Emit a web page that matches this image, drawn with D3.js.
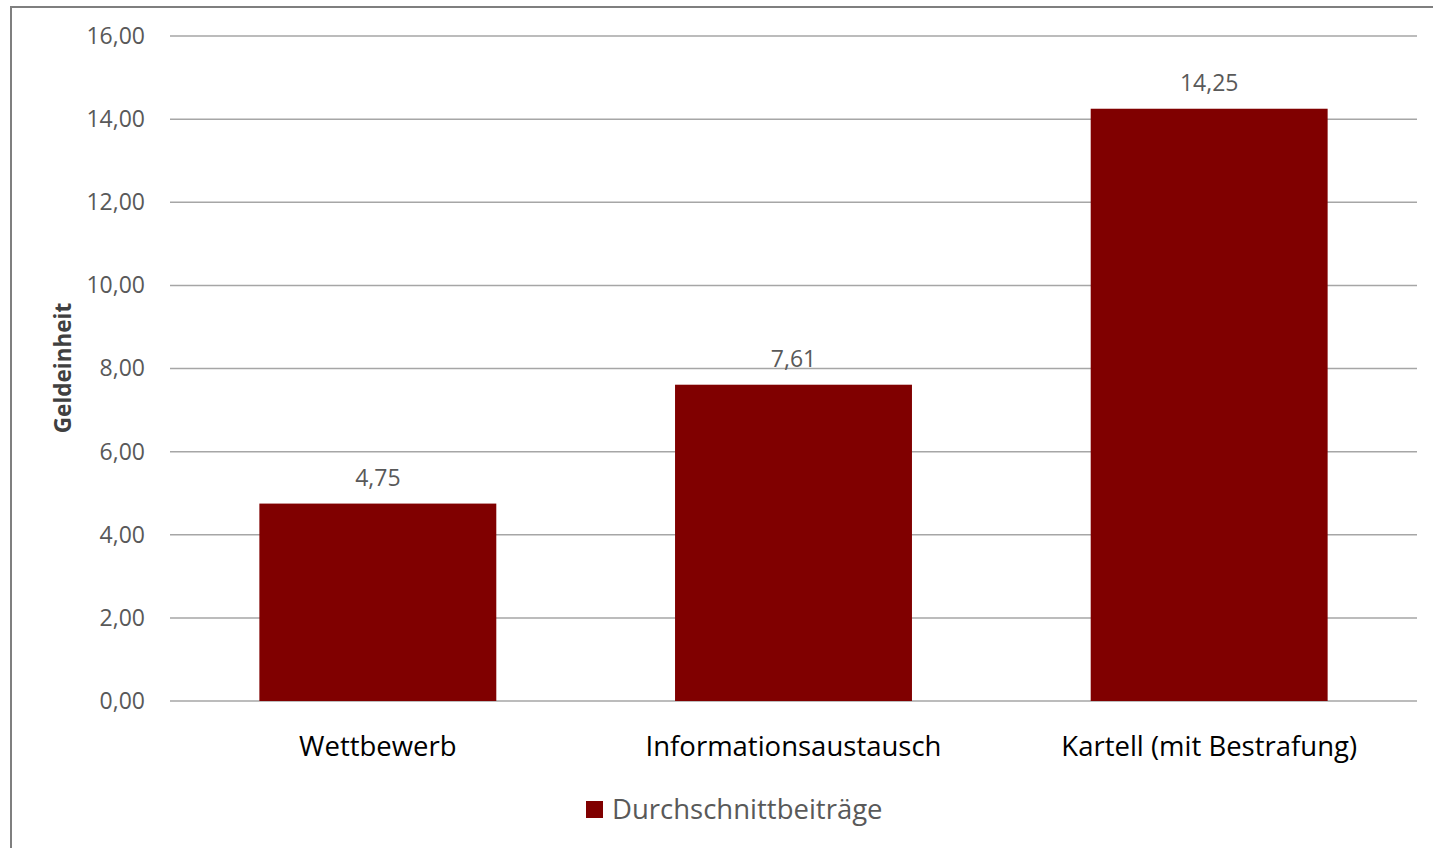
<!DOCTYPE html>
<html>
<head>
<meta charset="utf-8">
<script src="https://cdn.jsdelivr.net/npm/d3@7"></script>
<style>
  body { margin: 0; background: #fff; }
  svg text { font-family: "Open Sans", "DejaVu Sans", sans-serif; }
</style>
</head>
<body>
<div id="chart"></div>
<script>
var categories = ["Wettbewerb", "Informationsaustausch", "Kartell (mit Bestrafung)"];
var values = [4.75, 7.61, 14.25];
var yTicks = [0, 2, 4, 6, 8, 10, 12, 14, 16];
var seriesName = "Durchschnittbeiträge";
var yLabel = "Geldeinheit";

var width = 1433, height = 848;
var barColor = "#800000";

var svg = d3.select("#chart").append("svg")
            .attr("width", width)
            .attr("height", height);

// outer frame
svg.append("rect")
   .attr("x", 11).attr("y", 7)
   .attr("width", width + 10).attr("height", height + 10)
   .attr("fill", "none")
   .attr("stroke", "#7f7f7f")
   .attr("stroke-width", 2);

var x = d3.scaleBand()
          .domain(categories)
          .range([170, 1417])
          .paddingInner(0.43)
          .paddingOuter(0.215);

var y = d3.scaleLinear()
          .domain([0, 16])
          .range([701, 36]);

var fmt = function(v) { return d3.format(".2f")(v).replace(".", ","); };

// gridlines
svg.append("g").selectAll("line")
   .data(yTicks)
   .enter().append("line")
   .attr("x1", 170).attr("x2", 1417)
   .attr("y1", function(d) { return y(d); })
   .attr("y2", function(d) { return y(d); })
   .attr("stroke", "#a6a6a6")
   .attr("stroke-width", 1.5);

// y axis labels
var yAxis = d3.axisLeft(y).tickValues(yTicks).tickFormat(fmt).tickSize(0).tickPadding(25);
var gy = svg.append("g").attr("transform", "translate(170,0)").call(yAxis);
gy.select(".domain").remove();
gy.selectAll("text")
  .attr("font-size", 23)
  .attr("fill", "#595959")
  .style("font-family", "'Open Sans', sans-serif");

// bars
svg.append("g").selectAll("rect")
   .data(values)
   .enter().append("rect")
   .attr("x", function(d, i) { return x(categories[i]); })
   .attr("y", function(d) { return y(d); })
   .attr("width", x.bandwidth())
   .attr("height", function(d) { return y(0) - y(d); })
   .attr("fill", barColor);

// value labels
svg.append("g").selectAll("text")
   .data(values)
   .enter().append("text")
   .attr("x", function(d, i) { return x(categories[i]) + x.bandwidth() / 2; })
   .attr("y", function(d) { return y(d) - 18; })
   .attr("text-anchor", "middle")
   .attr("font-size", 23)
   .attr("fill", "#595959")
   .text(fmt);

// x axis labels
var xAxis = d3.axisBottom(x).tickSize(0).tickPadding(35);
var gx = svg.append("g").attr("transform", "translate(0,701)").call(xAxis);
gx.select(".domain").remove();
gx.selectAll("text")
  .attr("font-size", 27.5)
  .attr("fill", "#000")
  .style("font-family", "'Open Sans', sans-serif");

// y axis title
svg.append("text")
   .attr("transform", "translate(71,368) rotate(-90)")
   .attr("text-anchor", "middle")
   .attr("font-size", 22.5)
   .attr("font-weight", "bold")
   .attr("fill", "#404040")
   .text(yLabel);

// legend
var legend = svg.append("g").attr("transform", "translate(586,801)");
legend.append("rect")
      .attr("width", 17).attr("height", 17)
      .attr("fill", barColor);
legend.append("text")
      .attr("x", 26).attr("y", 18)
      .attr("font-size", 27.5)
      .attr("fill", "#595959")
      .text(seriesName);
</script>
</body>
</html>
